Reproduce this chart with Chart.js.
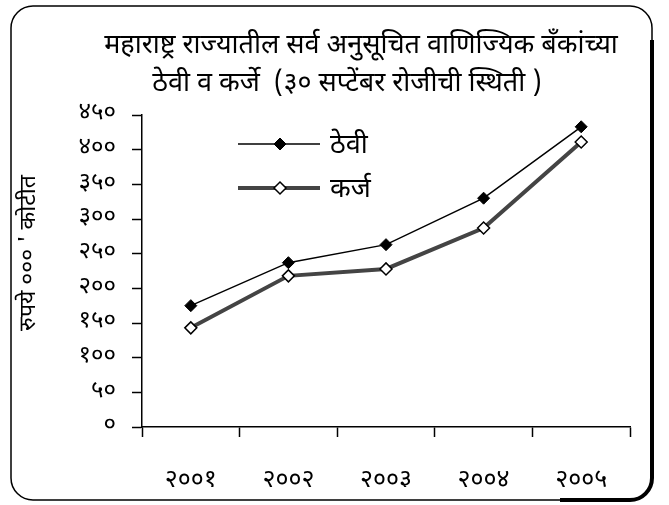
<!DOCTYPE html>
<html>
<head>
<meta charset="utf-8">
<script src="https://cdn.jsdelivr.net/npm/chart.js@4/dist/chart.umd.min.js"></script>
<style>
  html, body { margin: 0; padding: 0; background: #fff; }
  #wrap { width: 669px; height: 505px; position: relative; }
</style>
</head>
<body>
<div id="wrap"><canvas id="c" width="669" height="505"></canvas></div>
<script>
const categories = ['२००१', '२००२', '२००३', '२००४', '२००५'];
const theviValues = [175, 237, 263, 330, 433];
const karjaValues = [143, 218, 228, 287, 411];
const yTickLabels = ['०', '५०', '१००', '१५०', '२००', '२५०', '३००', '३५०', '४००', '४५०'];
const seriesNames = ['ठेवी', 'कर्ज'];
const titleLines = ['महाराष्ट्र राज्यातील सर्व अनुसूचित वाणिज्यिक बँकांच्या', 'ठेवी व कर्जे  (३० सप्टेंबर रोजीची स्थिती )'];
const yAxisTitle = 'रुपये ००० \' कोटीत';

const FONT = "'Noto Sans Devanagari', 'Lohit Devanagari', 'Noto Sans', 'Mangal', sans-serif";

function diamond(ctx, x, y, r, fill, stroke, lw) {
  ctx.beginPath();
  ctx.moveTo(x, y - r); ctx.lineTo(x + r, y); ctx.lineTo(x, y + r); ctx.lineTo(x - r, y); ctx.closePath();
  ctx.fillStyle = fill; ctx.fill();
  ctx.lineWidth = lw; ctx.strokeStyle = stroke; ctx.stroke();
}

const decor = {
  id: 'decor',
  beforeDraw(chart) {
    const ctx = chart.ctx;
    ctx.save();
    ctx.fillStyle = '#fff';
    ctx.fillRect(0, 0, chart.width, chart.height);
    ctx.strokeStyle = '#000';
    ctx.lineWidth = 1.5;
    ctx.beginPath();
    ctx.roundRect(11, 6, 641, 494, 22);
    ctx.stroke();
    ctx.lineWidth = 4;
    ctx.beginPath();
    ctx.moveTo(652, 40); ctx.lineTo(652, 478);
    ctx.arcTo(652, 500, 630, 500, 22);
    ctx.lineTo(560, 500);
    ctx.stroke();
    ctx.restore();
  },
  afterDraw(chart) {
    const ctx = chart.ctx;
    ctx.save();
    ctx.fillStyle = '#000';
    ctx.textBaseline = 'middle';
    ctx.textAlign = 'center';
    ctx.font = '27px ' + FONT;
    ctx.fillText(titleLines[0], 361, 48);
    ctx.fillText(titleLines[1], 347, 86);
    ctx.save();
    ctx.translate(31, 253);
    ctx.rotate(-Math.PI / 2);
    ctx.font = '23px ' + FONT;
    ctx.fillText(yAxisTitle, 0, 0);
    ctx.restore();
    ctx.textAlign = 'left';
    ctx.font = '27px ' + FONT;
    const ds = chart.data.datasets;
    const rows = [144, 188];
    ds.forEach((d, i) => {
      const y = rows[i];
      ctx.beginPath();
      ctx.moveTo(238, y); ctx.lineTo(320, y);
      ctx.lineWidth = d.borderWidth; ctx.strokeStyle = d.borderColor; ctx.stroke();
      diamond(ctx, 280, y, d.pointRadius, d.pointBackgroundColor, d.pointBorderColor, d.pointBorderWidth);
      ctx.fillStyle = '#000';
      ctx.fillText(d.label, 330, y + 4);
    });
    ctx.restore();
  }
};

new Chart(document.getElementById('c'), {
  type: 'line',
  data: {
    labels: categories,
    datasets: [
      {
        label: seriesNames[0],
        data: theviValues,
        borderColor: '#000',
        borderWidth: 1.5,
        pointStyle: 'rectRot',
        pointRadius: 6,
        pointBackgroundColor: '#000',
        pointBorderColor: '#000',
        pointBorderWidth: 1,
        tension: 0
      },
      {
        label: seriesNames[1],
        data: karjaValues,
        borderColor: '#444',
        borderWidth: 4,
        pointStyle: 'rectRot',
        pointRadius: 6,
        pointBackgroundColor: '#fff',
        pointBorderColor: '#000',
        pointBorderWidth: 1.5,
        tension: 0
      }
    ]
  },
  options: {
    responsive: false,
    animation: false,
    layout: { padding: { top: 115, left: 15, right: 39, bottom: 18 } },
    plugins: { legend: { display: false }, title: { display: false }, tooltip: { enabled: false } },
    scales: {
      x: {
        offset: true,
        grid: { offset: true, drawOnChartArea: false, tickLength: 10, color: '#000', tickWidth: 1.5 },
        border: { display: true, color: '#000', width: 1.5 },
        ticks: { color: '#000', padding: 30, font: { family: FONT, size: 25 }, maxRotation: 0 },
        afterFit(s) { s.height = 60; }
      },
      y: {
        min: 0, max: 450,
        grid: { drawOnChartArea: false, tickLength: 10, color: '#000', tickWidth: 1.5 },
        border: { display: true, color: '#000', width: 1.5 },
        ticks: {
          stepSize: 50, color: '#000', padding: 16,
          font: { family: FONT, size: 24 },
          callback: (v) => yTickLabels[Math.round(v / 50)]
        },
        afterFit(s) { s.width = 127; }
      }
    }
  },
  plugins: [decor]
});
</script>
</body>
</html>
